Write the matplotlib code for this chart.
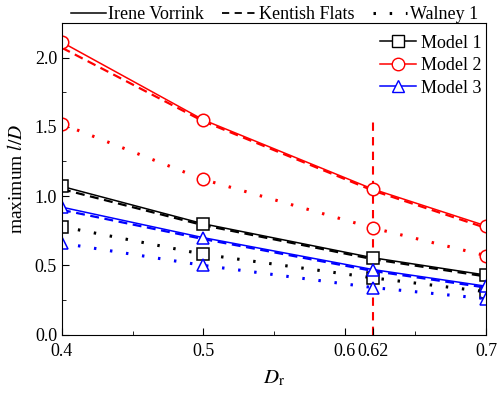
import numpy as np
from matplotlib import pyplot as plt
from matplotlib.lines import Line2D

plt.rcParams['font.family'] = ['Liberation Serif', 'DejaVu Serif']
plt.rcParams['mathtext.fontset'] = 'stix'
plt.rcParams['font.size'] = 13

dr = [0.4, 0.5, 0.62, 0.7]

# maximum l/D per model, one list per site
m1_irene = [1.07, 0.80, 0.555, 0.43]
m1_kentish = [1.05, 0.79, 0.545, 0.42]
m1_walney = [0.78, 0.58, 0.41, 0.31]

m2_irene = [2.11, 1.55, 1.05, 0.785]
m2_kentish = [2.07, 1.54, 1.04, 0.77]
m2_walney = [1.52, 1.12, 0.77, 0.57]

m3_irene = [0.92, 0.70, 0.47, 0.35]
m3_kentish = [0.90, 0.69, 0.46, 0.34]
m3_walney = [0.66, 0.50, 0.34, 0.26]

dr_design = 0.62
x_ticks = [0.4, 0.5, 0.6, 0.62, 0.7]
x_labels = ['0.4', '0.5', '0.6', '0.62', '0.7']


def main():
    fig = plt.figure(figsize=(4.97, 3.94), dpi=100)
    ax = fig.add_axes([0.1247, 0.1505, 0.8533, 0.7915])

    models = [
        ('Model 1', 'black', 's', m1_irene, m1_kentish, m1_walney),
        ('Model 2', 'red', 'o', m2_irene, m2_kentish, m2_walney),
        ('Model 3', 'blue', '^', m3_irene, m3_kentish, m3_walney),
    ]
    dotted = (0, (0.8, 4.5))
    for name, c, mk, irene, kentish, walney in models:
        ax.plot(dr, kentish, color=c, lw=1.6, ls=(0, (4, 2.5)))
        ax.plot(dr, irene, color=c, lw=1.1, marker=mk, ms=9,
                mfc='white', mec=c, mew=1.1)
        ax.plot(dr, walney, color=c, lw=2.2, ls=dotted, marker=mk, ms=9,
                mfc='white', mec=c, mew=1.1)

    ax.plot([dr_design, dr_design], [0, 1.56], color='red', lw=1.5,
            ls=(0, (4, 3)), zorder=1)

    ax.set_xlim(0.4, 0.7)
    ax.set_ylim(0, 2.25)
    ax.set_xticks(x_ticks)
    ax.set_xticklabels(x_labels)
    ax.set_xticks([0.45, 0.55, 0.65], minor=True)
    ax.set_yticks(np.arange(0, 2.01, 0.5))
    ax.set_yticks(np.arange(0.25, 2.25, 0.5), minor=True)
    ax.tick_params(which='both', direction='in', top=False, right=False)
    ax.tick_params(which='major', length=5)
    ax.tick_params(which='minor', length=3)
    ax.tick_params(axis='x', pad=6)
    ax.set_xlabel('$D_\\mathrm{r}$', fontsize=15, labelpad=6)
    ax.set_ylabel('maximum $l/D$', fontsize=14, labelpad=6)

    model_handles = [
        Line2D([], [], color=c, marker=mk, ms=9, mfc='white', mec=c, lw=1.1)
        for _, c, mk, *_ in models
    ]
    ax.legend(model_handles, [m[0] for m in models], loc='upper right',
              bbox_to_anchor=(1.007, 0.985), frameon=False, handlelength=2.0,
              borderaxespad=0, labelspacing=0.3, handletextpad=0.3)

    site_handles = [
        Line2D([], [], color='black', lw=1.1),
        Line2D([], [], color='black', lw=1.3, ls=(0, (4, 3))),
        Line2D([], [], color='black', lw=2.2, ls=dotted),
    ]
    fig.legend(site_handles, ['Irene Vorrink', 'Kentish Flats', 'Walney 1'],
               loc='upper center', bbox_to_anchor=(0.553, 1.025), ncol=3,
               frameon=False, handlelength=1.9, columnspacing=1.0,
               handletextpad=0.15)

    fig.savefig('out.png', dpi=100)


if __name__ == "__main__":
    main()
